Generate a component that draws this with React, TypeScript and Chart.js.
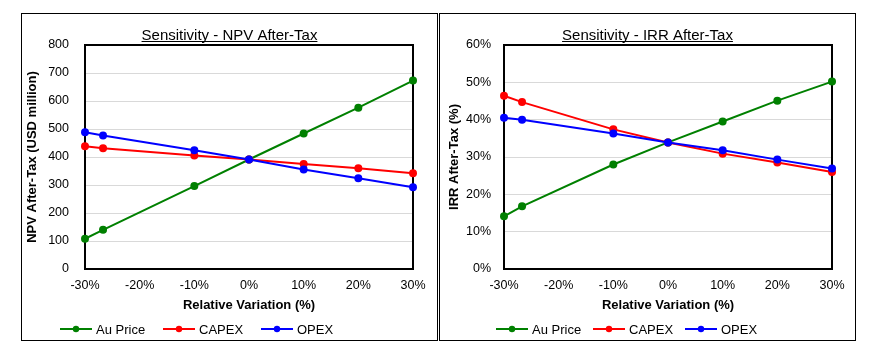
import React, { useEffect, useRef } from "react";
import { Chart, registerables } from "chart.js";

Chart.register(...registerables);

// ---- data ----
const variation = [-30, -26.7, -10, 0, 10, 20, 30];

const npvAuPrice = [108, 140, 296, 391, 484, 576, 673];
const npvCapex = [438, 431, 405, 391, 375, 360, 342];
const npvOpex = [488, 477, 424, 391, 355, 324, 292];

const irrAuPrice = [14.1, 16.8, 28.0, 33.9, 39.5, 45.1, 50.2];
const irrCapex = [46.4, 44.7, 37.4, 33.9, 30.9, 28.5, 26.0];
const irrOpex = [40.5, 40.0, 36.3, 33.9, 31.8, 29.3, 26.9];

const seriesNames = ["Au Price", "CAPEX", "OPEX"];
const seriesColors = ["#008000", "#ff0000", "#0000ff"];

const xTicks = { min: -30, max: 30, step: 10 };
const npvTicks = { min: 0, max: 800, step: 100 };
const irrTicks = { min: 0, max: 60, step: 10 };

const FONT = "'Liberation Sans', Arial, sans-serif";

const decorPlugin = {
  id: "decor",
  beforeDatasetsDraw(chart: any, _args: any, opts: any) {
    const { ctx, chartArea: a } = chart;
    ctx.save();
    ctx.strokeStyle = "#000";
    ctx.lineWidth = 2;
    ctx.strokeRect(a.left, a.top, a.right - a.left, a.bottom - a.top);
    ctx.restore();
  },
  afterDraw(chart: any, _args: any, opts: any) {
    const { ctx, width } = chart;
    ctx.save();
    // title with underline
    ctx.font = `15px ${FONT}`;
    ctx.fillStyle = "#000";
    ctx.textAlign = "center";
    ctx.textBaseline = "alphabetic";
    const cx = width / 2;
    ctx.fillText(opts.title, cx, opts.titleY);
    const tw = ctx.measureText(opts.title).width;
    ctx.fillRect(cx - tw / 2, opts.titleY + 1, tw, 1);
    // legend
    ctx.font = `13px ${FONT}`;
    ctx.textAlign = "left";
    ctx.textBaseline = "middle";
    const y = opts.legendY;
    seriesNames.forEach((name, i) => {
      const x0 = opts.legendX[i];
      ctx.strokeStyle = seriesColors[i];
      ctx.lineWidth = 2;
      ctx.beginPath();
      ctx.moveTo(x0, y);
      ctx.lineTo(x0 + 32, y);
      ctx.stroke();
      ctx.fillStyle = seriesColors[i];
      ctx.beginPath();
      ctx.arc(x0 + 16, y, 3.2, 0, Math.PI * 2);
      ctx.fill();
      ctx.fillStyle = "#000";
      ctx.fillText(name, x0 + 36, y + 1);
    });
    ctx.restore();
  },
};

function makeConfig(p: any) {
  const datasets = [p.au, p.capex, p.opex].map((vals: number[], i: number) => ({
    label: seriesNames[i],
    data: variation.map((x, j) => ({ x, y: vals[j] })),
    borderColor: seriesColors[i],
    backgroundColor: seriesColors[i],
    pointBackgroundColor: seriesColors[i],
    pointBorderColor: seriesColors[i],
    borderWidth: 2,
    pointRadius: 4,
    pointBorderWidth: 0,
    tension: 0,
    clip: false,
    order: 2 - i,
  }));
  return {
    type: "line",
    data: { datasets },
    plugins: [decorPlugin],
    options: {
      animation: false,
      responsive: false,
      maintainAspectRatio: false,
      events: [],
      layout: { padding: { top: 31, right: p.padRight, left: 0, bottom: 0 } },
      plugins: {
        legend: { display: false },
        title: { display: false },
        tooltip: { enabled: false },
        decor: { title: p.title, titleY: 26, legendY: 315, legendX: p.legendX },
      },
      scales: {
        x: {
          type: "linear",
          min: xTicks.min,
          max: xTicks.max,
          afterFit: (s: any) => {
            s.height = 71;
          },
          border: { display: false },
          grid: { display: false, drawTicks: false },
          ticks: {
            stepSize: xTicks.step,
            padding: 9,
            color: "#000",
            font: { family: FONT, size: 12.5 },
            maxRotation: 0,
            callback: (v: number) => `${v}%`,
          },
          title: {
            display: true,
            text: "Relative Variation (%)",
            color: "#000",
            font: { family: FONT, size: 13, weight: "bold" },
            padding: { top: 0, bottom: 27 },
          },
        },
        y: {
          type: "linear",
          min: p.yTicks.min,
          max: p.yTicks.max,
          afterFit: (s: any) => {
            s.width = p.yWidth;
          },
          border: { display: false },
          grid: {
            drawTicks: false,
            color: (c: any) =>
              c.tick && (c.tick.value === p.yTicks.min || c.tick.value === p.yTicks.max)
                ? "rgba(0,0,0,0)"
                : "#d9d9d9",
            lineWidth: 1,
          },
          ticks: {
            stepSize: p.yTicks.step,
            padding: p.yTickPad,
            color: "#000",
            font: { family: FONT, size: 12.5 },
            callback: p.yFmt,
          },
          title: {
            display: true,
            text: p.yTitle,
            color: "#000",
            font: { family: FONT, size: 13, weight: "bold" },
            padding: { top: p.yTitlePad, bottom: 0 },
          },
        },
      },
    },
  };
}

function Panel({ left, cfg }: { left: number; cfg: any }) {
  const ref = useRef<HTMLCanvasElement>(null);
  useEffect(() => {
    const chart = new Chart(ref.current as HTMLCanvasElement, makeConfig(cfg) as any);
    return () => chart.destroy();
  }, []);
  return (
    <div
      style={{
        position: "absolute",
        left,
        top: 13,
        width: 417,
        height: 328,
        border: "1px solid #000",
        boxSizing: "border-box",
        background: "#fff",
      }}
    >
      <canvas
        ref={ref}
        width={415}
        height={326}
        style={{ position: "absolute", left: 0, top: 0, width: 415, height: 326 }}
      />
    </div>
  );
}

export default function App() {
  const npvCfg = {
    au: npvAuPrice,
    capex: npvCapex,
    opex: npvOpex,
    title: "Sensitivity - NPV After-Tax",
    yTitle: "NPV After-Tax (USD million)",
    yTicks: npvTicks,
    yFmt: (v: number) => `${v}`,
    padRight: 24,
    yWidth: 63,
    yTickPad: 16,
    yTitlePad: 3,
    legendX: [38, 141, 239],
  };
  const irrCfg = {
    au: irrAuPrice,
    capex: irrCapex,
    opex: irrOpex,
    title: "Sensitivity - IRR After-Tax",
    yTitle: "IRR After-Tax (%)",
    yTicks: irrTicks,
    yFmt: (v: number) => `${v}%`,
    padRight: 23,
    yWidth: 64,
    yTickPad: 13,
    yTitlePad: 7,
    legendX: [56, 153, 245],
  };
  return (
    <div
      style={{
        position: "fixed",
        left: 0,
        top: 0,
        width: 877,
        height: 357,
        background: "#fff",
        overflow: "hidden",
      }}
    >
      <Panel left={21} cfg={npvCfg} />
      <Panel left={439} cfg={irrCfg} />
    </div>
  );
}
